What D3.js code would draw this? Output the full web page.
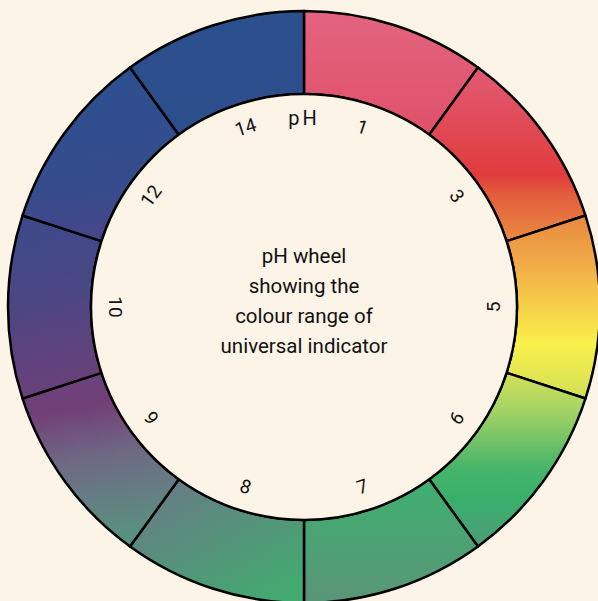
<!DOCTYPE html>
<html>
<head>
<meta charset="utf-8">
<script src="https://cdn.jsdelivr.net/npm/d3@7"></script>
<style>
  html, body { margin: 0; padding: 0; background: #fdf4e8; }
  svg { display: block; }
</style>
</head>
<body>
<div id="chart"></div>
<script>
// one segment per label, clockwise from the top
const labels = ["1", "3", "5", "6", "7", "8", "9", "10", "12", "14"];

// gradient stops for each segment [offset, colour]
const segStops = [
  [[0, "#e3647f"], [1, "#e0506a"]],
  [[0, "#e25a74"], [0.62, "#e03c3c"], [0.72, "#e25a3c"], [1, "#ea8c42"]],
  [[0, "#e98840"], [0.3, "#f2b048"], [0.7, "#faf04a"], [1, "#d0e058"]],
  [[0, "#d4e058"], [0.2, "#a8d464"], [0.55, "#46b46a"], [0.72, "#38b06c"], [1, "#4e9a78"]],
  [[0, "#3eb070"], [1, "#5a9478"]],
  [[0, "#6c7688"], [1, "#42aa70"]],
  [[0, "#6a4480"], [0.25, "#723f78"], [0.55, "#6e6a84"], [1, "#5a9080"]],
  [[0, "#3c4a8a"], [0.5, "#4c4684"], [1, "#6a4078"]],
  [[0, "#2c5090"], [0.7, "#354c8c"], [1, "#45478a"]],
  [[0, "#2c4f8d"], [1, "#2c4e8b"]]
];

// gradient direction per segment (objectBoundingBox)
const segDir = [
  [0, 0, 0, 1], [0, 0, 0, 1], [0, 0, 0, 1], [0, 0, 0, 1], [0, 0, 0, 1],
  [0, 0, 0.8, 1], [0, 0, 0.15, 1], [0, 0, 0.1, 1], [0, 0, 0.1, 1], [0, 0, 0, 1]
];

const centerLines = ["pH wheel", "showing the", "colour range of", "universal indicator"];
const title = "pH";

const width = 598, height = 601;
const cx = 304, cy = 307;
const outerR = 296, innerR = 213, labelR = 189;

const svg = d3.select("#chart")
  .append("svg")
    .attr("width", width)
    .attr("height", height);

svg.append("rect")
    .attr("width", width)
    .attr("height", height)
    .attr("fill", "#fdf4e8");

const angle = d3.scaleBand()
    .domain(labels)
    .range([0, 2 * Math.PI]);

const defs = svg.append("defs");
labels.forEach((l, i) => {
  const g = defs.append("linearGradient")
      .attr("id", "seg" + i)
      .attr("x1", segDir[i][0]).attr("y1", segDir[i][1])
      .attr("x2", segDir[i][2]).attr("y2", segDir[i][3]);
  segStops[i].forEach(s => {
    g.append("stop").attr("offset", s[0]).attr("stop-color", s[1]);
  });
});

const arc = d3.arc()
    .innerRadius(innerR)
    .outerRadius(outerR)
    .startAngle(d => angle(d))
    .endAngle(d => angle(d) + angle.bandwidth());

const wheel = svg.append("g")
    .attr("transform", `translate(${cx},${cy})`);

wheel.selectAll(".seg")
  .data(labels)
  .enter().append("path")
    .attr("class", "seg")
    .attr("d", arc)
    .attr("fill", (d, i) => `url(#seg${i})`)
    .attr("stroke", "#000")
    .attr("stroke-width", 2.5)
    .attr("stroke-linejoin", "round");

wheel.append("circle")
    .attr("r", innerR)
    .attr("fill", "#fdf4e8")
    .attr("stroke", "#000")
    .attr("stroke-width", 2.5);

const font = "Roboto, 'Liberation Sans Narrow', sans-serif";

// labels around the inside of the ring
wheel.selectAll(".lab")
  .data(labels)
  .enter().append("text")
    .attr("class", "lab")
    .attr("transform", d => {
      const deg = (angle(d) + angle.bandwidth() / 2) * 180 / Math.PI;
      const rot = (deg >= 90 && deg <= 270) ? deg - 180 : deg;
      const a = (deg - 90) * Math.PI / 180;
      return `translate(${labelR * Math.cos(a)},${labelR * Math.sin(a)}) rotate(${rot})`;
    })
    .attr("text-anchor", "middle")
    .attr("dominant-baseline", "central")
    .style("font-family", font)
    .style("font-size", "19px")
    .attr("fill", "#111")
    .text(d => d);

wheel.append("text")
    .attr("x", 0)
    .attr("y", -labelR)
    .attr("text-anchor", "middle")
    .attr("dominant-baseline", "central")
    .style("font-family", font)
    .style("font-size", "20px")
    .style("letter-spacing", "3px")
    .attr("fill", "#111")
    .text(title);

// centre caption
svg.append("text")
    .attr("x", cx)
    .attr("text-anchor", "middle")
    .style("font-family", font)
    .style("font-size", "20.5px")
    .attr("fill", "#111")
  .selectAll("tspan")
  .data(centerLines)
  .enter().append("tspan")
    .attr("x", cx)
    .attr("y", (d, i) => 263 + i * 30)
    .text(d => d);
</script>
</body>
</html>
